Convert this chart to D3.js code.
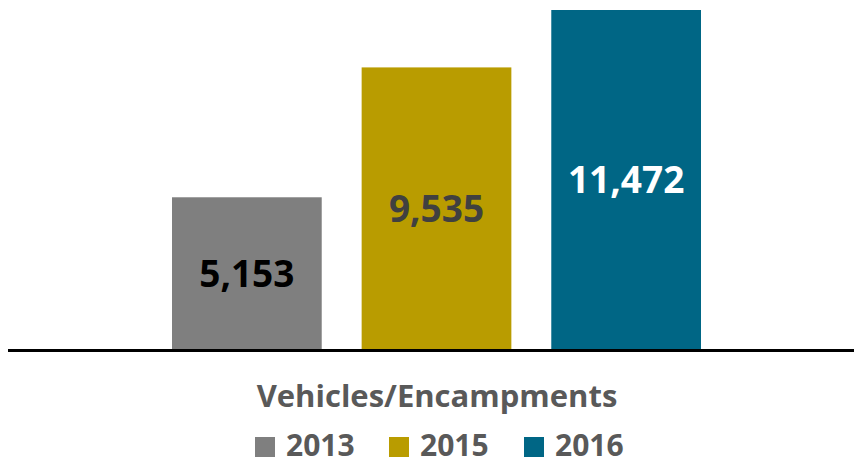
<!DOCTYPE html>
<html><head><meta charset="UTF-8">
<script src="https://cdn.jsdelivr.net/npm/d3@7/dist/d3.min.js"></script>
<style>
body{margin:0;background:#fff;overflow:hidden}
text{font-family:"Open Sans",sans-serif;font-weight:700}
</style></head><body><div id="chart"></div><script>
// data
const years = ['2013', '2015', '2016'];
const counts = [5153, 9535, 11472];
const barColors = ['#7f7f7f', '#b99c00', '#006685'];
const labelColors = ['#000000', '#404040', '#ffffff'];
const categoryLabel = 'Vehicles/Encampments';

const W = 854, H = 462, baseY = 350;

const svg = d3.select('#chart').append('svg').attr('width', W).attr('height', H);

const x = d3.scaleBand().domain(years).range([172, 701]).paddingInner(40 / 190).paddingOuter(0);
const y = d3.scaleLinear().domain([0, 11472]).range([baseY, 10]);

const fmt = d3.format(',');

const bars = svg.append('g').selectAll('g').data(years).join('g');

bars.append('rect')
  .attr('x', d => x(d))
  .attr('width', x.bandwidth())
  .attr('y', (d, i) => y(counts[i]))
  .attr('height', (d, i) => baseY - y(counts[i]))
  .attr('fill', (d, i) => barColors[i]);

bars.append('text')
  .attr('x', d => x(d) + x.bandwidth() / 2)
  .attr('y', (d, i) => (y(counts[i]) + baseY) / 2)
  .attr('dy', '0.36em')
  .attr('text-anchor', 'middle')
  .attr('font-size', 37)
  .attr('fill', (d, i) => labelColors[i])
  .text((d, i) => fmt(counts[i]));

// baseline
svg.append('line')
  .attr('x1', 8).attr('x2', W)
  .attr('y1', baseY + 0.5).attr('y2', baseY + 0.5)
  .attr('stroke', '#000').attr('stroke-width', 3);

svg.append('text')
  .attr('x', 437).attr('y', 407)
  .attr('text-anchor', 'middle')
  .attr('font-size', 31)
  .attr('fill', '#595959')
  .text(categoryLabel);

// legend
const legendX = [255, 389, 524];
const leg = svg.append('g').selectAll('g').data(years).join('g')
  .attr('transform', (d, i) => `translate(${legendX[i]},437)`);
leg.append('rect').attr('width', 20).attr('height', 20).attr('fill', (d, i) => barColors[i]);
leg.append('text')
  .attr('x', 31).attr('y', 19)
  .attr('font-size', 30)
  .attr('fill', '#595959')
  .text(d => d);
</script></body></html>
